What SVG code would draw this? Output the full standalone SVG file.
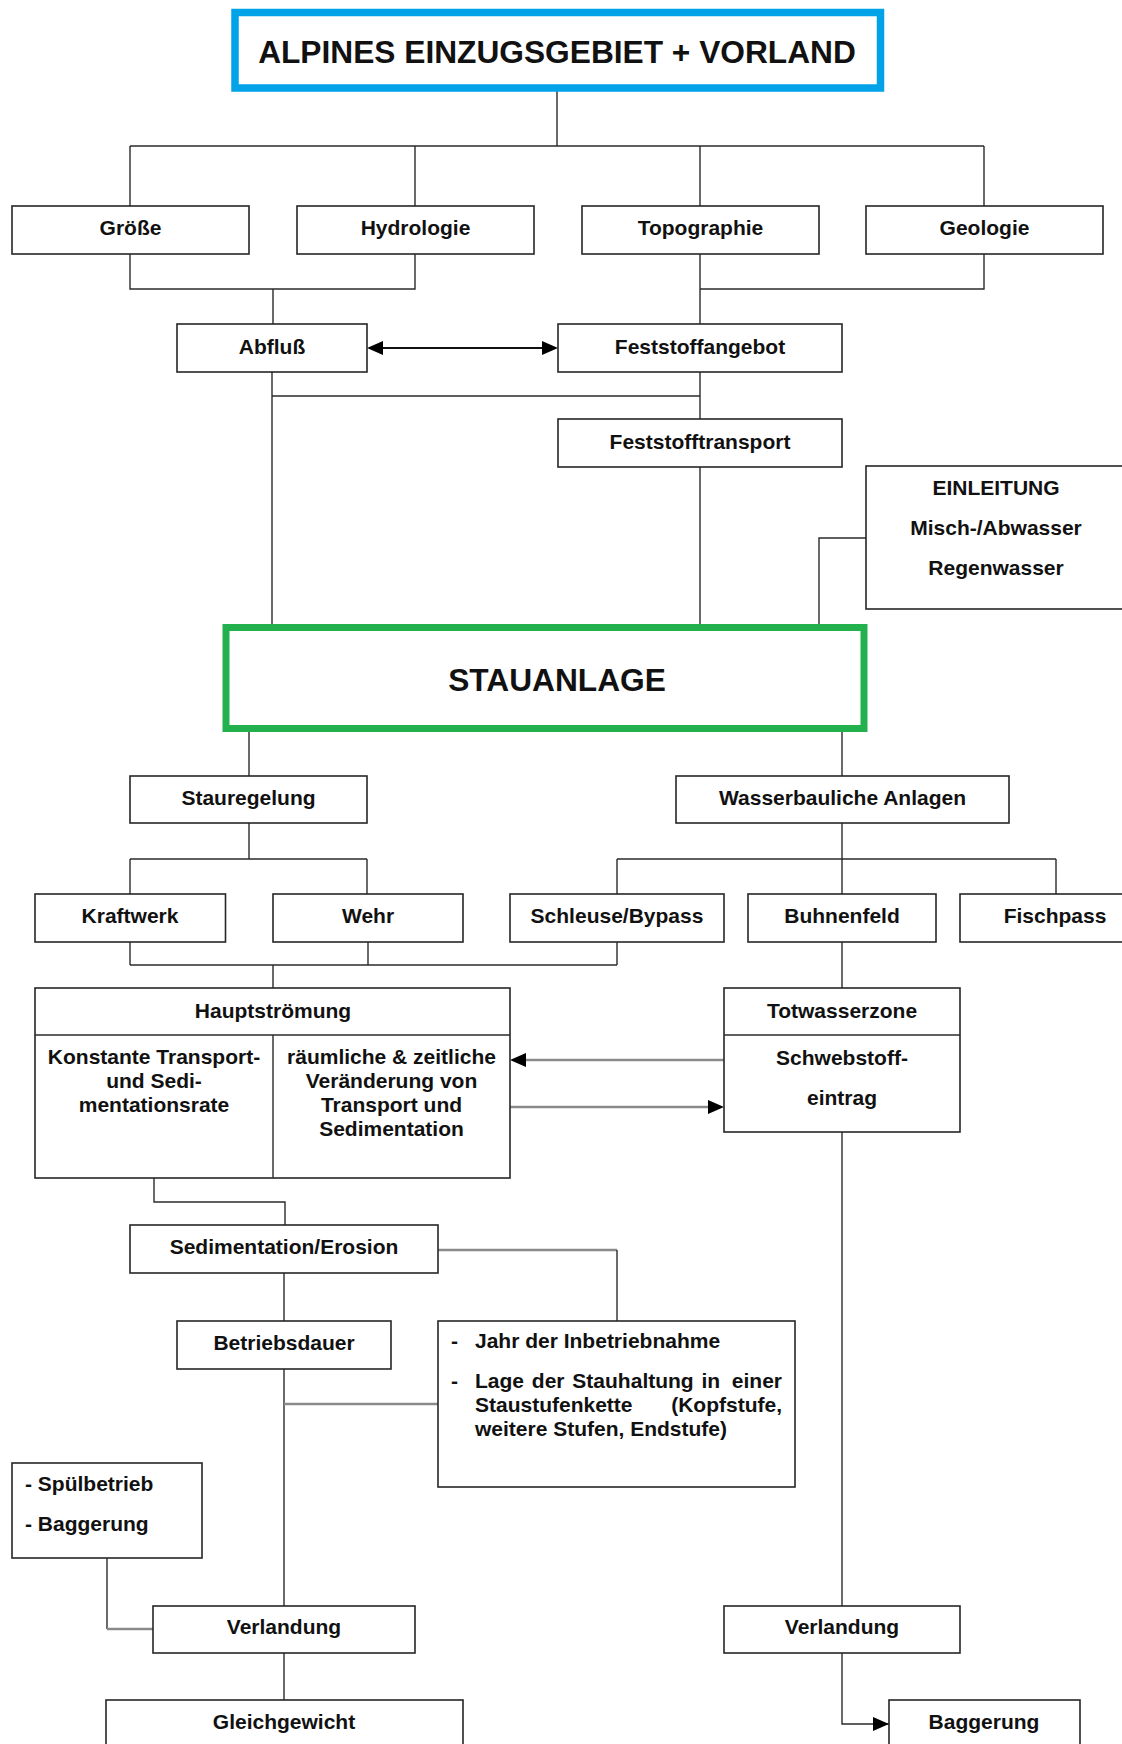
<svg xmlns="http://www.w3.org/2000/svg" width="1122" height="1744" viewBox="0 0 1122 1744">
<defs>
<style>
.bx{fill:#fff;stroke:#262626;stroke-width:1.6}
.t{font-family:"Liberation Sans",Arial,sans-serif;font-weight:bold;font-size:21px;fill:#111;text-anchor:middle}
.tl{font-family:"Liberation Sans",Arial,sans-serif;font-weight:bold;font-size:21px;fill:#111}
.big{font-family:"Liberation Sans",Arial,sans-serif;font-weight:bold;font-size:31.7px;fill:#111;text-anchor:middle}
.c{fill:none;stroke:#2b2b2b;stroke-width:1.4}
.g{fill:none;stroke:#8a8a8a;stroke-width:2.6}
.a2{fill:none;stroke:#111;stroke-width:2.2}
</style>
<marker id="arr" markerUnits="userSpaceOnUse" markerWidth="16" markerHeight="14" refX="16" refY="7" orient="auto-start-reverse"><path d="M0,0 L16,7 L0,14 z" fill="#000"/></marker>
<marker id="arrs" markerUnits="userSpaceOnUse" markerWidth="16" markerHeight="14" refX="6" refY="7" orient="auto-start-reverse"><path d="M0,0 L16,7 L0,14 z" fill="#000"/></marker>
</defs>
<rect width="1122" height="1744" fill="#fff"/>

<g id="connectors">
<path class="c" d="M557,88 V146 M130,146 H984 M130,146 V206 M415,146 V206 M700,146 V206 M984,146 V206"/>
<path class="c" d="M130,254 V289 H415 V254 M273,289 V324 M700,254 V289 H984 V254 M700,289 V324"/>
<line class="a2" x1="377" y1="348" x2="548" y2="348" marker-start="url(#arrs)" marker-end="url(#arrs)"/>
<path class="c" d="M272,372 V624 M272,396 H700 M700,372 V419 M700,467 V624 M866,538 H819 V624"/>
<path class="c" d="M249,732 V776 M842,732 V776"/>
<path class="c" d="M249,823 V859 M130,859 H367 M130,859 V894 M367,859 V894"/>
<path class="c" d="M842,823 V859 M617,859 H1056 M617,859 V894 M842,859 V894 M1056,859 V894"/>
<path class="c" d="M130,942 V965 M368,942 V965 M617,942 V965 M130,965 H617 M273,965 V988 M842,942 V988"/>
<line class="g" x1="724" y1="1060" x2="520" y2="1060" marker-end="url(#arrs)"/>
<line class="g" x1="510" y1="1107" x2="714" y2="1107" marker-end="url(#arrs)"/>
<path class="c" d="M842,1132 V1606"/>
<path class="c" d="M154,1178 V1202 H285 V1225"/>
<path class="g" d="M438,1250 H617"/>
<path class="c" d="M617,1250 V1321"/>
<path class="c" d="M284,1273 V1321 M284,1369 V1606"/>
<path class="g" d="M284,1404 H438"/>
<path class="c" d="M107,1558 V1629"/>
<path class="g" d="M107,1629 H153"/>
<path class="c" d="M284,1653 V1700"/>
<path class="c" d="M842,1653 V1724 H889" marker-end="url(#arr)"/>
</g>

<g id="n-alpines">
<rect x="235" y="12.5" width="645.5" height="75.5" fill="#fff" stroke="#00a2e8" stroke-width="7.5"/>
<text class="big" x="557" y="63">ALPINES EINZUGSGEBIET + VORLAND</text>
</g>
<g id="n-groesse"><rect class="bx" x="12" y="206" width="237" height="48"/><text class="t" x="130.5" y="235">Größe</text></g>
<g id="n-hydrologie"><rect class="bx" x="297" y="206" width="237" height="48"/><text class="t" x="415.5" y="235">Hydrologie</text></g>
<g id="n-topographie"><rect class="bx" x="582" y="206" width="237" height="48"/><text class="t" x="700.5" y="235">Topographie</text></g>
<g id="n-geologie"><rect class="bx" x="866" y="206" width="237" height="48"/><text class="t" x="984.5" y="235">Geologie</text></g>
<g id="n-abfluss"><rect class="bx" x="177" y="324" width="190" height="48"/><text class="t" x="272" y="354">Abfluß</text></g>
<g id="n-feststoffangebot"><rect class="bx" x="558" y="324" width="284" height="48"/><text class="t" x="700" y="354">Feststoffangebot</text></g>
<g id="n-feststofftransport"><rect class="bx" x="558" y="419" width="284" height="48"/><text class="t" x="700" y="449">Feststofftransport</text></g>
<g id="n-einleitung"><rect class="bx" x="866" y="466" width="270" height="143"/>
<text class="t" x="996" y="495">EINLEITUNG</text><text class="t" x="996" y="535">Misch-/Abwasser</text><text class="t" x="996" y="575">Regenwasser</text></g>
<g id="n-stauanlage">
<rect x="226" y="627.5" width="638" height="101" fill="#fff" stroke="#22b14c" stroke-width="7"/>
<text class="big" x="557" y="691">STAUANLAGE</text>
</g>
<g id="n-stauregelung"><rect class="bx" x="130" y="776" width="237" height="47"/><text class="t" x="248.5" y="805">Stauregelung</text></g>
<g id="n-wasserbau"><rect class="bx" x="676" y="776" width="333" height="47"/><text class="t" x="842.5" y="805">Wasserbauliche Anlagen</text></g>
<g id="n-kraftwerk"><rect class="bx" x="35" y="894" width="190.5" height="48"/><text class="t" x="130" y="923">Kraftwerk</text></g>
<g id="n-wehr"><rect class="bx" x="273" y="894" width="190" height="48"/><text class="t" x="368" y="923">Wehr</text></g>
<g id="n-schleuse"><rect class="bx" x="510" y="894" width="214" height="48"/><text class="t" x="617" y="923">Schleuse/Bypass</text></g>
<g id="n-buhnenfeld"><rect class="bx" x="748" y="894" width="188" height="48"/><text class="t" x="842" y="923">Buhnenfeld</text></g>
<g id="n-fischpass"><rect class="bx" x="960" y="894" width="180" height="48"/><text class="t" x="1055" y="923">Fischpass</text></g>
<g id="n-hauptstroemung">
<rect class="bx" x="35" y="988" width="475" height="190"/>
<path class="c" d="M35,1035 H510 M273,1035 V1178"/>
<text class="t" x="273" y="1018">Hauptströmung</text>
<text class="t" x="154" y="1064">Konstante Transport-</text>
<text class="t" x="154" y="1088">und Sedi-</text>
<text class="t" x="154" y="1112">mentationsrate</text>
<text class="t" x="391.5" y="1064">räumliche &amp; zeitliche</text>
<text class="t" x="391.5" y="1088">Veränderung von</text>
<text class="t" x="391.5" y="1112">Transport und</text>
<text class="t" x="391.5" y="1136">Sedimentation</text>
</g>
<g id="n-totwasserzone">
<rect class="bx" x="724" y="988" width="236" height="144"/>
<path class="c" d="M724,1035 H960"/>
<text class="t" x="842" y="1018">Totwasserzone</text>
<text class="t" x="842" y="1065">Schwebstoff-</text>
<text class="t" x="842" y="1105">eintrag</text>
</g>
<g id="n-sedimentation"><rect class="bx" x="130" y="1225" width="308" height="48"/><text class="t" x="284" y="1254">Sedimentation/Erosion</text></g>
<g id="n-betriebsdauer"><rect class="bx" x="177" y="1321" width="214" height="48"/><text class="t" x="284" y="1350">Betriebsdauer</text></g>
<g id="n-info">
<rect class="bx" x="438" y="1321" width="357" height="166"/>
<text class="tl" x="451" y="1348">-</text><text class="tl" x="475" y="1348">Jahr der Inbetriebnahme</text>
<text class="tl" x="451" y="1388">-</text><text class="tl" x="475" y="1388" word-spacing="2">Lage der Stauhaltung in</text><text class="tl" x="782" y="1388" text-anchor="end">einer</text>
<text class="tl" x="475" y="1412">Staustufenkette</text><text class="tl" x="782" y="1412" text-anchor="end">(Kopfstufe,</text>
<text class="tl" x="475" y="1436">weitere Stufen, Endstufe)</text>
</g>
<g id="n-spuelbetrieb">
<rect class="bx" x="12" y="1463" width="190" height="95"/>
<text class="tl" x="25" y="1491">- Spülbetrieb</text>
<text class="tl" x="25" y="1531">- Baggerung</text>
</g>
<g id="n-verlandung-l"><rect class="bx" x="153" y="1606" width="262" height="47"/><text class="t" x="284" y="1634">Verlandung</text></g>
<g id="n-verlandung-r"><rect class="bx" x="724" y="1606" width="236" height="47"/><text class="t" x="842" y="1634">Verlandung</text></g>
<g id="n-gleichgewicht"><rect class="bx" x="106" y="1700" width="357" height="60"/><text class="t" x="284" y="1729">Gleichgewicht</text></g>
<g id="n-baggerung"><rect class="bx" x="889" y="1700" width="191" height="60"/><text class="t" x="984" y="1729">Baggerung</text></g>
</svg>
